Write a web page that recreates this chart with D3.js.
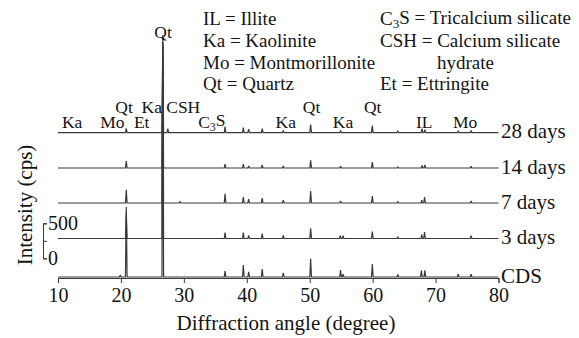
<!DOCTYPE html>
<html>
<head>
<meta charset="utf-8">
<script src="https://cdn.jsdelivr.net/npm/d3@7"></script>
<style>
  html, body { margin: 0; padding: 0; background: #fff; }
  svg { display: block; font-family: "Liberation Serif", "Times New Roman", serif; }
</style>
</head>
<body>
<svg id="chart" width="579" height="338"></svg>
<script>
// ---- data -------------------------------------------------------------
// XRD patterns: [2θ (degree), peak intensity above background (cps)]
const seriesNames = ["CDS", "3 days", "7 days", "14 days", "28 days"];
// vertical stacking offset of each pattern (cps)
const seriesOffsets = [0, 550, 1057, 1557, 2063];

const peaksCDS = [
  [19.9, 30], [20.85, 1000], [26.65, 3300], [36.55, 85], [39.45, 170], [40.3, 75],
  [42.45, 115], [45.8, 60], [50.15, 260], [54.9, 100], [55.3, 40], [59.95, 185],
  [64.0, 35], [67.75, 95], [68.3, 95], [73.6, 40], [75.65, 40]
];
const peaks3d = [
  [20.85, 370], [26.65, 2600], [36.55, 85], [39.45, 85], [40.3, 45], [42.45, 70],
  [45.8, 45], [50.15, 145], [54.85, 40], [55.3, 40], [59.95, 100], [64.0, 25],
  [67.8, 55], [68.25, 90], [75.65, 40]
];
const peaks7d = [
  [20.85, 190], [26.65, 2300], [29.4, 20], [36.55, 130], [39.45, 85], [40.3, 55],
  [42.45, 70], [45.8, 40], [50.15, 170], [54.9, 30], [59.95, 100], [64.0, 20],
  [67.8, 40], [68.25, 85], [75.65, 30]
];
const peaks14d = [
  [20.85, 100], [26.65, 1900], [36.55, 55], [39.45, 55], [40.3, 30], [42.45, 45],
  [45.8, 30], [50.15, 110], [54.9, 25], [59.95, 85], [64.0, 15], [67.85, 35],
  [68.3, 45], [75.65, 25]
];
const peaks28d = [
  [20.85, 60], [26.65, 1270], [27.45, 55], [36.55, 85], [39.45, 70], [40.3, 50],
  [42.45, 55], [45.8, 30], [50.15, 115], [54.9, 30], [59.95, 100], [64.0, 20],
  [67.85, 55], [68.3, 40], [73.6, 20], [75.65, 30]
];
const seriesPeaks = [peaksCDS, peaks3d, peaks7d, peaks14d, peaks28d];

const xTicks = [10, 20, 30, 40, 50, 60, 70, 80];
const scaleBarTicks = [0, 250, 500];
const scaleBarLabels = ["0", "", "500"];

// phase identification marks on the 28-day pattern: text, 2θ, row
const phaseLabels = [
  ["Ka", 12.25, 0], ["Mo", 18.65, 0], ["Qt", 20.5, 1], ["Et", 23.3, 0],
  ["Ka", 24.9, 1], ["CSH", 29.9, 1], ["C_3S", 34.45, 0], ["Ka", 46.2, 0],
  ["Qt", 50.3, 1], ["Ka", 55.3, 0], ["Qt", 60.0, 1], ["IL", 68.2, 0],
  ["Mo", 74.7, 0], ["Qt", 26.7, 2]
];

const legendLeft = ["IL = Illite", "Ka = Kaolinite", "Mo = Montmorillonite", "Qt = Quartz"];
const legendRight = ["C_3S = Tricalcium silicate", "CSH = Calcium silicate", "hydrate", "Et = Ettringite"];

// ---- layout -------------------------------------------------------------
const svg = d3.select("#chart");
const ink = "#141414";
const lineInk = "#3a3a3a";

const x = d3.scaleLinear().domain([10, 80]).range([58, 498.5]);
const y = d3.scaleLinear().domain([0, 3500]).range([277, 32]);

// text with "_n" marking a subscript digit
function richText(sel, str, subSize) {
  const parts = str.split(/_(\d)/);
  parts.forEach((p, i) => {
    if (p === "") return;
    if (i % 2 === 1) {
      sel.append("tspan").attr("font-size", subSize).attr("dy", "0.25em").text(p);
    } else {
      const t = sel.append("tspan").text(p);
      if (i > 0) t.attr("dy", "-0.25em");
    }
  });
}

// patterns: each reflection drawn as a narrow spike on the flat background
const halfWidth = 0.13;
const line = d3.line().x(d => x(d[0])).y(d => y(d[1]));
seriesPeaks.forEach((peaks, si) => {
  const off = seriesOffsets[si];
  const pts = [[10, off]];
  peaks.slice().sort((a, b) => a[0] - b[0]).forEach(([a, h]) => {
    pts.push([a - halfWidth, off], [a, off + h], [a + halfWidth, off]);
  });
  pts.push([80, off]);
  svg.append("path")
    .attr("d", line(pts))
    .attr("fill", "none")
    .attr("stroke", lineInk)
    .attr("stroke-width", 1.2)
    .attr("stroke-linejoin", "miter")
    .attr("stroke-miterlimit", 2);
});

// series names at the right end of each pattern
svg.append("g").selectAll("text").data(seriesNames).join("text")
  .attr("x", 501)
  .attr("y", (d, i) => y(seriesOffsets[i]) + 5.5)
  .attr("font-size", 21)
  .attr("fill", ink)
  .text(d => d);

// x axis
const xAxis = svg.append("g")
  .attr("transform", `translate(0,${y(0) + 1})`)
  .call(d3.axisBottom(x).tickValues(xTicks).tickSize(5).tickPadding(4.5).tickFormat(d3.format("d")));
xAxis.selectAll("path, line").attr("stroke", lineInk).attr("stroke-width", 1);
xAxis.selectAll("text").attr("font-size", 20).attr("font-family", "Liberation Serif").attr("fill", ink);

svg.append("text")
  .attr("x", 286).attr("y", 330)
  .attr("text-anchor", "middle")
  .attr("font-size", 21).attr("fill", ink)
  .text("Diffraction angle (degree)");

// intensity scale bar
const barBase = 267;
const barY = d3.scaleLinear().domain([0, 500]).range([y(barBase), y(barBase + 500)]);
const bar = svg.append("g")
  .attr("transform", "translate(43,0)")
  .call(d3.axisRight(barY).tickValues(scaleBarTicks).tickSize(4).tickSizeOuter(4).tickPadding(1)
    .tickFormat((d, i) => scaleBarLabels[i]));
bar.selectAll("path, line").attr("stroke", lineInk).attr("stroke-width", 1);
bar.selectAll("text").attr("font-size", 20).attr("font-family", "Liberation Serif").attr("fill", ink);

svg.append("text")
  .attr("transform", "translate(32,205) rotate(-90)")
  .attr("text-anchor", "middle")
  .attr("font-size", 21).attr("fill", ink)
  .text("Intensity (cps)");

// phase marks
const rowBaseline = [127.5, 113, 38];
phaseLabels.forEach(([t, a, row]) => {
  const el = svg.append("text")
    .attr("x", x(a)).attr("y", rowBaseline[row])
    .attr("text-anchor", "middle")
    .attr("font-size", 17.5).attr("fill", ink);
  richText(el, t, 12);
});

// legend
const legendRows = [25, 47, 68.5, 90];
legendLeft.forEach((t, i) => {
  const el = svg.append("text").attr("x", 203).attr("y", legendRows[i])
    .attr("font-size", 19).attr("fill", ink);
  richText(el, t, 13);
});
const rightIndent = [0, 0, 57, 0];
legendRight.forEach((t, i) => {
  const el = svg.append("text").attr("x", 380 + rightIndent[i]).attr("y", legendRows[i])
    .attr("font-size", 19).attr("fill", ink);
  richText(el, t, 13);
});
</script>
</body>
</html>
